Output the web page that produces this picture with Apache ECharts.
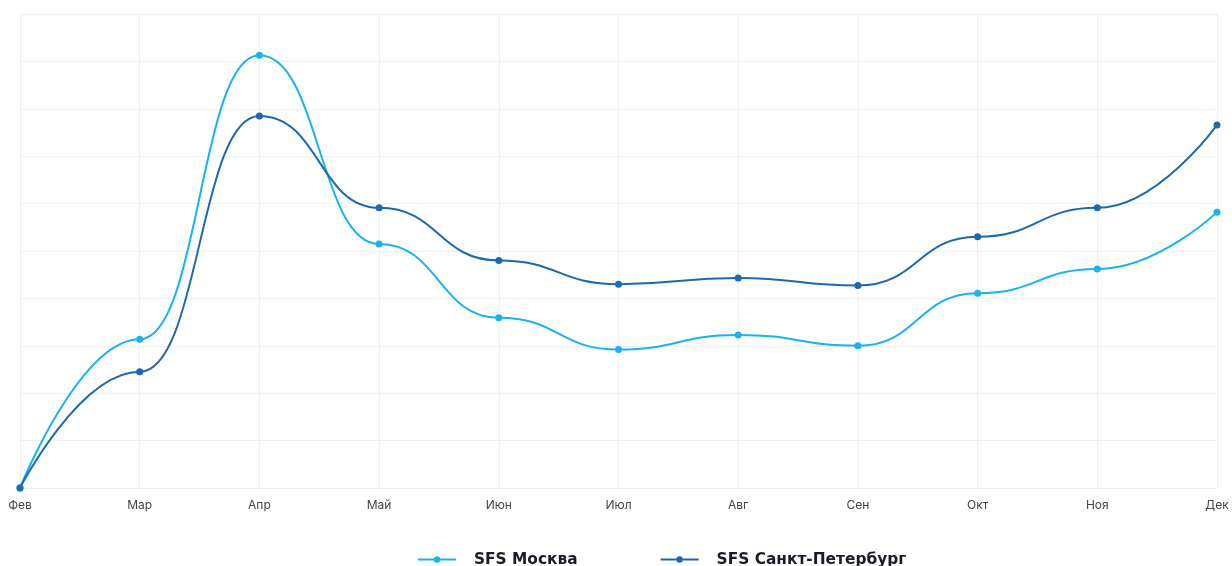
<!DOCTYPE html>
<html>
<head>
<meta charset="utf-8">
<script src="https://cdn.jsdelivr.net/npm/echarts@6/dist/echarts.min.js"></script>
<style>
  html, body { margin: 0; padding: 0; background: #ffffff; }
  #chart { width: 1232px; height: 566px; }
</style>
</head>
<body>
<div id="chart"></div>
<script>
// Months on the category axis
const months = ['Фев', 'Мар', 'Апр', 'Май', 'Июн', 'Июл', 'Авг', 'Сен', 'Окт', 'Ноя', 'Дек'];

// Series values
const moscow = [0, 3.14, 9.13, 5.15, 3.59, 2.92, 3.23, 3.0, 4.11, 4.62, 5.82];
const spb    = [0, 2.45, 7.85, 5.91, 4.80, 4.30, 4.43, 4.27, 5.30, 5.91, 7.66];

const seriesNames = ['SFS Москва', 'SFS Санкт-Петербург'];
const colors = ['#1ab3ee', '#1d69ae'];

const chart = echarts.init(document.getElementById('chart'), null, { renderer: 'canvas' });

function lineSeries(name, data, color) {
  return {
    name: name,
    type: 'line',
    data: data,
    smooth: 0.5,
    smoothMonotone: 'x',
    symbol: 'circle',
    symbolSize: 7,
    showSymbol: true,
    lineStyle: { width: 2, color: color },
    itemStyle: { color: color },
    emphasis: { disabled: true }
  };
}

chart.setOption({
  animation: false,
  color: colors,
  grid: { left: 20, right: 15, top: 14, bottom: 78, containLabel: false },
  legend: {
    top: 547,
    left: 412,
    itemGap: 82,
    itemWidth: 38,
    itemHeight: 8,
    data: seriesNames,
    textStyle: {
      fontFamily: '"DejaVu Sans", sans-serif',
      fontSize: 15.4,
      fontWeight: 'bold',
      color: '#1b1b2b',
      padding: [0, 0, 0, 13]
    }
  },
  xAxis: {
    type: 'category',
    data: months,
    boundaryGap: false,
    axisLine: { show: true, lineStyle: { color: '#f0f0f0', width: 1 } },
    axisTick: { show: false },
    splitLine: { show: true, lineStyle: { color: '#f0f0f0', width: 1 } },
    axisLabel: {
      color: '#444444',
      fontSize: 12,
      margin: 11,
      fontFamily: 'Inter, "Noto Sans", sans-serif'
    }
  },
  yAxis: {
    type: 'value',
    min: 0,
    max: 10,
    interval: 1,
    axisLine: { show: false },
    axisTick: { show: false },
    axisLabel: { show: false },
    splitLine: { show: true, lineStyle: { color: '#f0f0f0', width: 1 } }
  },
  series: [
    lineSeries(seriesNames[0], moscow, colors[0]),
    lineSeries(seriesNames[1], spb, colors[1])
  ]
});
</script>
</body>
</html>
